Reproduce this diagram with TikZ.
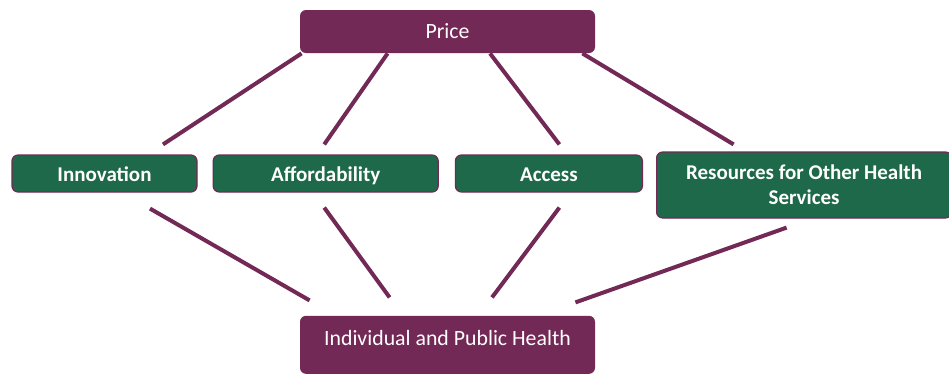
\documentclass[tikz,border=0pt]{standalone}
\usepackage{fontspec}
\setmainfont{Carlito}
\usepackage{tikz}
\usetikzlibrary{positioning}

\definecolor{plum}{HTML}{722956}
\definecolor{pine}{HTML}{1E694A}

\begin{document}
\begin{tikzpicture}[
  pbox/.style={fill=plum, rounded corners=3pt, text=white, font=\fontsize{10.9}{12.5}\selectfont, minimum width=147.5pt, inner sep=0pt, align=center},
  gbox/.style={draw=plum, line width=0.6pt, fill=pine, rounded corners=3pt, text=white, font=\fontsize{10.5}{12.5}\selectfont\bfseries, minimum height=18.5pt, inner sep=0pt, align=center},
  oneline/.style={text height=9pt, text depth=0.75pt},
  link/.style={draw=plum, line width=2pt},
]
\useasboundingbox (0,0) rectangle (474.5pt,-188.5pt);
\node[pbox, minimum height=21.5pt] (price) at (223.75pt,-15.75pt) {Price};
\node[gbox, oneline, minimum width=92.5pt] (inno) at (52.25pt,-86.75pt) {Innovation};
\node[gbox, oneline, minimum width=112.5pt, right=7.5pt of inno] (afford) {Affordability};
\node[gbox, oneline, minimum width=93.5pt, right=8pt of afford] (access) {Access};
\node[gbox, minimum width=147.5pt, minimum height=33pt, anchor=north west] (res) at ([shift={(6.5pt,1.5pt)}]access.north east) {Resources for Other Health\\ Services};
\node[pbox, text height=14.9pt, text depth=14.1pt, below=131pt of price] (health) {Individual and Public Health};
\draw[link] ([xshift=1pt]price.south west) -- ([shift={(29.25pt,5pt)}]inno.north);
\draw[link] ([xshift=44pt]price.south west) -- ([shift={(-0.75pt,5pt)}]afford.north);
\draw[link] ([xshift=21.25pt]price.south) -- ([shift={(5.25pt,5pt)}]access.north);
\draw[link] ([xshift=-6.5pt]price.south east) -- ([shift={(-35.25pt,3.5pt)}]res.north);
\draw[link] ([shift={(22.75pt,-8pt)}]inno.south) -- ([shift={(5pt,7.5pt)}]health.north west);
\draw[link] ([shift={(-0.75pt,-7.5pt)}]afford.south) -- ([shift={(45pt,9pt)}]health.north west);
\draw[link] ([shift={(5.25pt,-7.5pt)}]access.south) -- ([shift={(22.25pt,9pt)}]health.north);
\draw[link] ([shift={(-8.75pt,-4.5pt)}]res.south) -- ([shift={(-10pt,6.5pt)}]health.north east);
\end{tikzpicture}
\end{document}
